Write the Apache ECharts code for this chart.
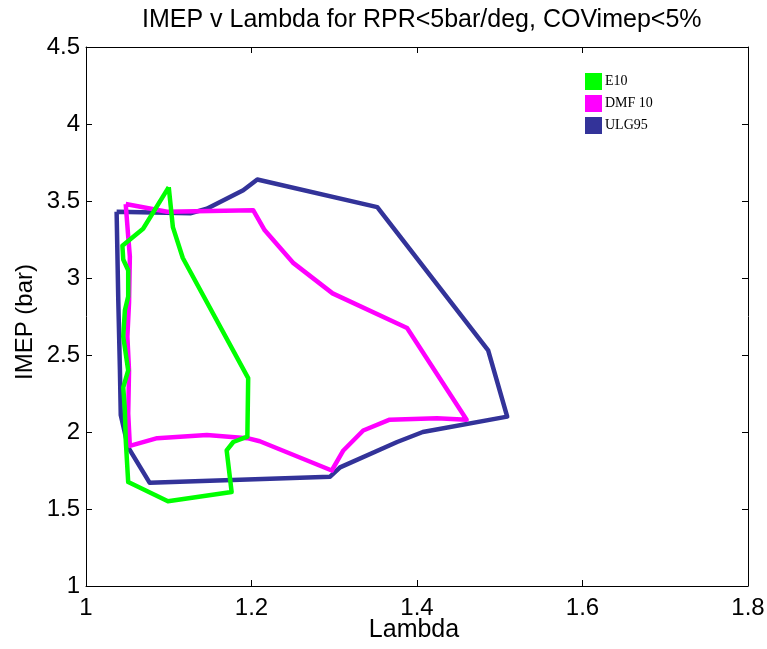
<!DOCTYPE html>
<html>
<head>
<meta charset="utf-8">
<script src="https://cdn.jsdelivr.net/npm/echarts@6/dist/echarts.min.js"></script>
<style>html,body{margin:0;padding:0;background:#fff;}#c{width:767px;height:649px;}</style>
</head>
<body>
<div id="c"></div>
<script>
var seriesNames = ['E10', 'DMF 10', 'ULG95'];
var seriesColors = ['#00FF00', '#FF00FF', '#333399'];
var xTicks = [1, 1.2, 1.4, 1.6, 1.8];
var yTicks = [1, 1.5, 2, 2.5, 3, 3.5, 4, 4.5];

var e10 = [
  [1.100, 3.59], [1.105, 3.33], [1.117, 3.13], [1.196, 2.35], [1.195, 1.97],
  [1.178, 1.935], [1.170, 1.88], [1.176, 1.61], [1.099, 1.55], [1.051, 1.675],
  [1.048, 1.95], [1.047, 2.14], [1.045, 2.29], [1.051, 2.40], [1.045, 2.62],
  [1.047, 2.79], [1.051, 2.88], [1.051, 3.05], [1.045, 3.12], [1.044, 3.21],
  [1.069, 3.32], [1.100, 3.59]
];
var dmf10 = [
  [1.048, 3.48], [1.098, 3.43], [1.202, 3.44], [1.216, 3.31], [1.250, 3.10],
  [1.298, 2.90], [1.388, 2.675], [1.460, 2.08], [1.424, 2.09], [1.367, 2.08],
  [1.335, 2.01], [1.311, 1.88], [1.297, 1.75], [1.210, 1.94], [1.195, 1.96],
  [1.146, 1.98], [1.086, 1.96], [1.053, 1.91], [1.051, 2.12], [1.052, 2.40],
  [1.050, 2.62], [1.052, 2.84], [1.053, 3.14], [1.051, 3.27], [1.048, 3.48]
];
var ulg95 = [
  [1.037, 3.43], [1.126, 3.42], [1.146, 3.45], [1.190, 3.57], [1.207, 3.64],
  [1.352, 3.46], [1.486, 2.53], [1.509, 2.10], [1.407, 2.00], [1.376, 1.935],
  [1.307, 1.77], [1.295, 1.71], [1.077, 1.67], [1.051, 1.90], [1.042, 2.11],
  [1.041, 2.40], [1.039, 2.86], [1.037, 3.43]
];
var seriesData = [e10, dmf10, ulg95];

var font = 'Liberation Sans, Arial, sans-serif';
function axisBase(extra) {
  var a = {
    type: 'value',
    axisLine: { show: true, onZero: false, lineStyle: { color: '#000', width: 1 } },
    axisTick: { show: true, inside: true, length: 6, lineStyle: { color: '#000' } },
    splitLine: { show: false },
    axisLabel: { show: true, color: '#000', fontFamily: font, fontSize: 24 }
  };
  for (var k in extra) a[k] = extra[k];
  return a;
}

var chart = echarts.init(document.getElementById('c'), null, { renderer: 'canvas' });
chart.setOption({
  animation: false,
  backgroundColor: '#fff',
  title: {
    text: 'IMEP v Lambda for RPR<5bar/deg, COVimep<5%',
    left: 137, top: 3,
    textStyle: { fontFamily: font, fontSize: 25, fontWeight: 'normal', color: '#000' }
  },
  legend: {
    data: seriesNames,
    orient: 'vertical',
    left: 580, top: 68,
    itemWidth: 17, itemHeight: 17, itemGap: 5,
    icon: 'rect',
    textStyle: { fontFamily: 'Liberation Serif, Times New Roman, serif', fontSize: 14, color: '#000', padding: [0, 0, 0, -2] }
  },
  grid: { left: 86, right: 19, top: 47, bottom: 63, containLabel: false, outerBoundsMode: 'none' },
  graphic: [{
    type: 'text', x: 25, y: 322, rotation: Math.PI / 2,
    style: { text: 'IMEP (bar)', fontFamily: font, fontSize: 24, fill: '#000', align: 'center', verticalAlign: 'middle' }
  }, {
    type: 'text', x: 414, y: 630,
    style: { text: 'Lambda', fontFamily: font, fontSize: 25, fill: '#000', align: 'center', verticalAlign: 'middle' }
  }],
  xAxis: [
    axisBase({
      min: 1, max: 1.8, interval: 0.2, position: 'bottom',
      axisLabel: { show: true, color: '#000', fontFamily: font, fontSize: 24, margin: 10,
        formatter: function (v) { return String(+v.toFixed(1)); } }
    }),
    axisBase({ min: 1, max: 1.8, interval: 0.2, position: 'top', axisLabel: { show: false } })
  ],
  yAxis: [
    axisBase({
      min: 1, max: 4.5, interval: 0.5, position: 'left',
      axisLabel: { show: true, color: '#000', fontFamily: font, fontSize: 24, margin: 6,
        formatter: function (v) { return String(+v.toFixed(1)); } }
    }),
    axisBase({ min: 1, max: 4.5, interval: 0.5, position: 'right', axisLabel: { show: false } })
  ],
  series: seriesNames.map(function (n, i) {
    return {
      name: n, type: 'line', data: seriesData[i],
      showSymbol: false, symbol: 'none',
      itemStyle: { color: seriesColors[i] },
      lineStyle: { color: seriesColors[i], width: 4.5, join: 'round' },
      z: 3 - i
    };
  })
});
</script>
</body>
</html>
